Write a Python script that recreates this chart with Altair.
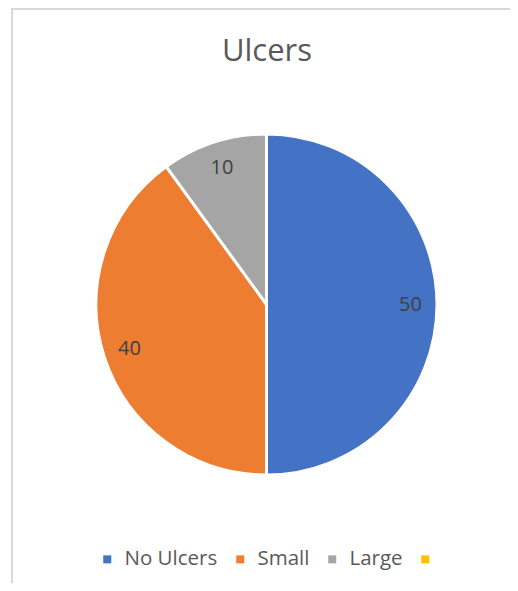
import altair as alt
import pandas as pd

title_text = "Ulcers"
categories = ["No Ulcers", "Small", "Large"]
values = [50, 40, 10]
legend_extra = [" "]
colors = ["#4472C4", "#ED7D31", "#A5A5A5", "#FFC000"]

df = pd.DataFrame({"category": categories, "value": values, "idx": list(range(len(categories)))})

W, H = 502, 575
CX, CY, R = 258.5, 296.5, 170.5

base = alt.Chart(df).encode(
    theta=alt.Theta("value:Q", stack=True),
    order=alt.Order("idx:Q"),
)

pie = base.mark_arc(radius=R, stroke="white", strokeWidth=3).encode(
    x=alt.value(CX),
    y=alt.value(CY),
    color=alt.Color(
        "category:N",
        scale=alt.Scale(domain=categories + legend_extra, range=colors),
        legend=alt.Legend(
            title=None,
            orient="none",
            direction="horizontal",
            legendX=89,
            legendY=541,
            symbolType="square",
            symbolSize=64,
            symbolStrokeWidth=0,
            labelFont="Open Sans",
            labelFontSize=20.5,
            labelColor="#595959",
            labelOffset=7,
            columnPadding=12,
            padding=0,
        ),
    ),
)

labels = base.mark_text(radius=144, font="Open Sans", fontSize=20, color="#404040").encode(
    x=alt.value(CX),
    y=alt.value(CY),
    text=alt.Text("value:Q"),
)

title = alt.Chart(alt.Data(values=[{"t": title_text}])).mark_text(
    font="Open Sans", fontSize=31, color="#595959", baseline="alphabetic", align="center"
).encode(x=alt.value(259), y=alt.value(53), text="t:N")

border = alt.Chart(alt.Data(values=[{"a": 1}])).mark_rect(
    fill="white", stroke="#D9D9D9", strokeWidth=2
).encode(x=alt.value(4), x2=alt.value(540), y=alt.value(1), y2=alt.value(620))

chart = alt.layer(border, pie, labels, title).properties(
    width=W, height=H, autosize=alt.AutoSizeParams(type="none"), padding=0, background="white"
).configure_view(stroke=None)

chart.save("out.html", embed_options={"renderer": "svg", "actions": False})
